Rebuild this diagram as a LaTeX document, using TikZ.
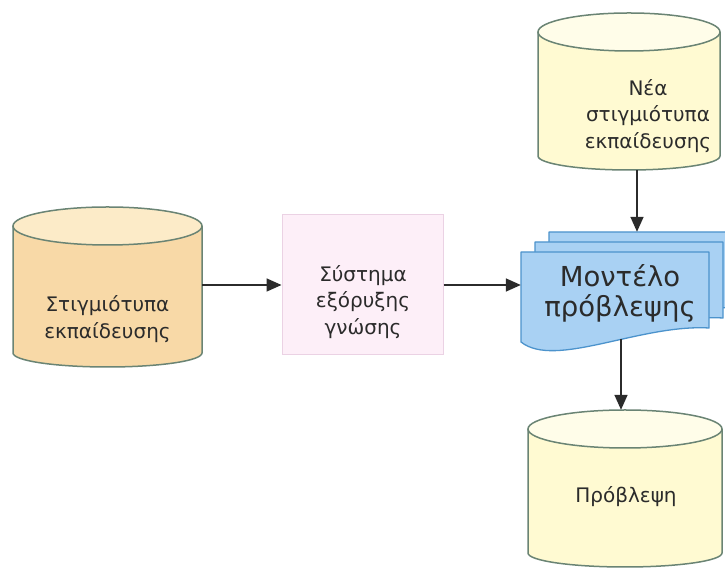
\documentclass[tikz,border=0pt]{standalone}
\usepackage{fontspec}
\setmainfont{DejaVu Sans}
\usetikzlibrary{arrows.meta,calc}

\definecolor{ink}{HTML}{2B2B2B}
\definecolor{drumedge}{HTML}{6A8474}
\definecolor{peachbody}{HTML}{F8D9A7}
\definecolor{peachlid}{HTML}{FCEBC8}
\definecolor{creambody}{HTML}{FFFAD2}
\definecolor{creamlid}{HTML}{FFFDE9}
\definecolor{pinkfill}{HTML}{FDEFF8}
\definecolor{pinkedge}{HTML}{EBD2E4}
\definecolor{docblue}{HTML}{A9D1F3}
\definecolor{docedge}{HTML}{4C93CC}

\tikzset{
  drumline/.style={draw=drumedge, line width=1.5pt},
  drumbox/.style={rectangle, draw=none, inner sep=0pt},
  lbl/.style={align=center, text=ink, inner sep=0pt, font=\fontsize{20}{26.5}\selectfont},
  bigl/.style={align=center, text=ink, inner sep=0pt, font=\fontsize{27.5}{30}\selectfont},
  minerbox/.style={rectangle, fill=pinkfill, draw=pinkedge, line width=1pt,
                   minimum width=161pt, minimum height=140pt, inner sep=0pt},
  sheet/.style={fill=docblue, draw=docedge, line width=1.3pt, line join=round},
  sheetbox/.style={rectangle, draw=none, inner sep=0pt, minimum width=188pt, minimum height=90pt},
  flow/.style={draw=ink, line width=1.6pt, -{Triangle[length=15pt,width=13pt]}},
}

% database drum: name, centre x, top y, bottom y, half width, body colour, lid colour
\newcommand\dbdrum[7]{%
  \fill[#6] (#2-#5,#3-19) -- (#2-#5,#4+14)
    arc[start angle=180,end angle=360,x radius=#5,y radius=14] -- (#2+#5,#3-19) -- cycle;
  \draw[drumline] (#2-#5,#3-19) -- (#2-#5,#4+14)
    arc[start angle=180,end angle=360,x radius=#5,y radius=14] -- (#2+#5,#3-19);
  \draw[drumline,fill=#7] (#2,#3-19) ellipse[x radius=#5,y radius=19];
  \node[drumbox,minimum width={2*#5pt},minimum height={(#3-#4)*1pt}] (#1) at (#2,{(#3+#4)/2}) {};
}

\begin{document}
\begin{tikzpicture}[x=1pt,y=1pt]
\useasboundingbox (0,0) rectangle (725,569);
\fill[white] (0,0) rectangle (725,569);
\clip (0,0) rectangle (725,569);

% data stores
\dbdrum{train}{107.5}{362}{202}{94.5}{peachbody}{peachlid}
\dbdrum{newdata}{629}{556}{399}{91}{creambody}{creamlid}
\dbdrum{pred}{625}{159}{2}{97}{creambody}{creamlid}

\node[lbl] (train-text) at (107.5,250) {Στιγμιότυπα\\εκπαίδευσης};
\node[lbl] (newdata-text) at (648,453) {Νέα\\στιγμιότυπα\\εκπαίδευσης};
\node[lbl] (pred-text) at (626,72) {Πρόβλεψη};

% mining system
\node[minerbox] (miner) at (362.5,284) {};
\node[lbl] (miner-text) at (363,267) {Σύστημα\\εξόρυξης\\γνώσης};

% stacked model sheets
\foreach \dx/\dy in {28/20,14/10,0/0}{
  \path[sheet,shift={(\dx,\dy)}] (521,227) -- (521,317) -- (709,317) -- (709,241)
    .. controls (640,245) and (555,200) .. (521,227) -- cycle;
}
\node[sheetbox] (model-back) at (643,292) {};
\node[sheetbox] (model) at (615,272) {};
\coordinate (model-foot) at (621,230);
\node[bigl] (model-text) at (620,276) {Μοντέλο\\πρόβλεψης};

% connectors
\draw[flow] (train.east |- miner.west) -- (miner.west);
\draw[flow] (miner.east) -- (miner.east -| model.west);
\draw[flow] ([xshift=8pt]newdata.south) -- ([xshift=8pt]newdata.south |- model-back.north);
\draw[flow] (model-foot) -- (model-foot |- pred.north);
\end{tikzpicture}
\end{document}
